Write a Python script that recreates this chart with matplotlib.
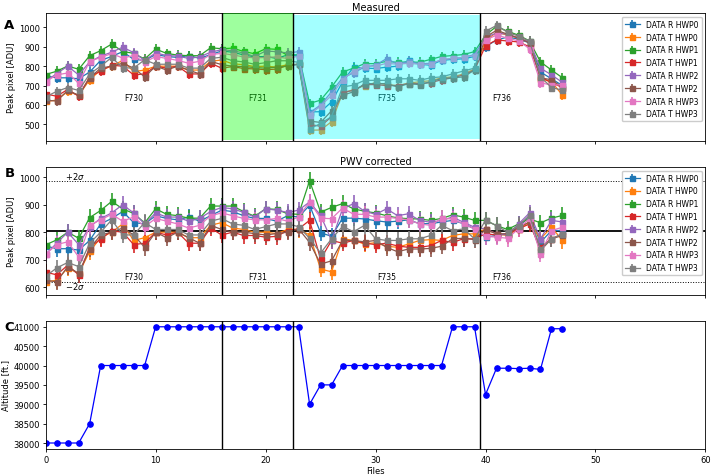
import matplotlib.pyplot as plt

# file index for every measurement
files = list(range(48))

labels = ["DATA R HWP0", "DATA T HWP0", "DATA R HWP1", "DATA T HWP1",
          "DATA R HWP2", "DATA T HWP2", "DATA R HWP3", "DATA T HWP3"]
colors = ["tab:blue", "tab:orange", "tab:green", "tab:red",
          "tab:purple", "tab:brown", "tab:pink", "tab:gray"]

# Panel A - measured peak pixel [ADU]
meas_r_hwp0 = [750, 740, 740, 735, 770, 830, 850, 875, 835, 830, 860, 850, 845, 855, 840, 860,
               878, 872, 858, 848, 850, 840, 858, 855,
               565, 565, 616, 719, 796, 790, 788, 795, 800, 830, 810, 805, 830, 835, 838, 850,
               900, 935, 950, 940, 920, 770, 735, 700]
meas_t_hwp0 = [618, 625, 670, 650, 730, 780, 800, 830, 772, 780, 800, 800, 800, 780, 780, 825,
               832, 812, 808, 798, 800, 795, 808, 810,
               470, 471, 514, 660, 680, 700, 715, 705, 700, 712, 720, 725, 740, 745, 760, 785,
               930, 975, 960, 945, 925, 735, 720, 650]
meas_r_hwp1 = [757, 774, 801, 784, 854, 880, 914, 876, 866, 837, 888, 866, 857, 854, 854, 895,
               890, 893, 876, 864, 890, 887, 856, 860,
               608, 625, 693, 770, 790, 813, 813, 825, 820, 822, 820, 835, 850, 855, 860, 875,
               960, 1005, 980, 960, 930, 822, 780, 740]
meas_t_hwp1 = [657, 645, 680, 645, 745, 775, 805, 800, 755, 760, 800, 790, 800, 760, 760, 815,
               790, 798, 788, 786, 782, 785, 804, 810,
               500, 490, 540, 665, 675, 705, 705, 700, 700, 710, 710, 715, 730, 740, 755, 780,
               905, 935, 930, 925, 900, 745, 715, 690]
meas_r_hwp2 = [722, 762, 800, 755, 822, 852, 872, 898, 870, 830, 868, 855, 852, 840, 848, 872,
               885, 880, 868, 850, 878, 875, 868, 875,
               560, 600, 668, 740, 765, 796, 805, 839, 810, 825, 812, 815, 830, 840, 845, 860,
               950, 970, 965, 945, 925, 790, 755, 716]
meas_t_hwp2 = [625, 620, 675, 650, 740, 790, 800, 815, 790, 745, 800, 780, 800, 780, 760, 825,
               808, 800, 798, 793, 790, 795, 800, 810,
               517, 510, 570, 650, 668, 710, 710, 710, 693, 710, 705, 720, 736, 740, 745, 780,
               950, 985, 965, 945, 920, 740, 730, 690]
meas_r_hwp3 = [720, 755, 765, 712, 825, 845, 865, 842, 855, 820, 850, 840, 830, 815, 825, 860,
               866, 858, 848, 843, 845, 848, 840, 852,
               550, 595, 650, 730, 775, 800, 800, 815, 810, 815, 810, 810, 835, 840, 845, 855,
               935, 960, 945, 930, 890, 715, 702, 705]
meas_t_hwp3 = [642, 670, 690, 675, 760, 800, 845, 792, 790, 833, 810, 810, 810, 790, 790, 840,
               846, 828, 822, 810, 818, 828, 828, 820,
               476, 505, 540, 693, 702, 727, 727, 727, 735, 735, 727, 740, 745, 760, 775, 790,
               980, 1010, 975, 955, 930, 745, 690, 676]

# Panel B - PWV corrected peak pixel [ADU]
corr_r_hwp0 = [750, 740, 740, 735, 770, 830, 850, 875, 835, 830, 860, 850, 845, 855, 840, 860,
               880, 875, 860, 850, 850, 840, 860, 855,
               898, 798, 785, 851, 851, 848, 842, 837, 840, 845,
               831, 831, 837, 843, 831, 812, 782, 788, 794, 818, 860, 763, 806, 806]
corr_t_hwp0 = [620, 625, 670, 650, 730, 780, 800, 830, 770, 780, 800, 800, 800, 780, 780, 825,
               835, 815, 810, 800, 800, 795, 810, 810,
               790, 666, 656, 776, 770, 757, 762, 749, 745, 757,
               770, 773, 770, 788, 794, 794, 812, 794, 788, 812, 837, 776, 818, 770]
corr_r_hwp1 = [754, 772, 800, 778, 853, 879, 912, 885, 868, 834, 885, 865, 860, 851, 851, 895,
               895, 895, 875, 858, 885, 883, 867, 865,
               987, 873, 890, 904, 885, 876, 870, 860, 852, 849,
               848, 843, 850, 863, 855, 843, 843, 824, 810, 830, 849, 834, 851, 861]
corr_t_hwp1 = [655, 645, 680, 645, 745, 775, 805, 800, 755, 760, 800, 790, 800, 760, 760, 815,
               790, 800, 788, 788, 782, 785, 806, 812,
               843, 702, 770, 760, 770, 760, 755, 760, 750, 745,
               745, 751, 770, 763, 776, 776, 794, 790, 794, 812, 830, 745, 776, 794]
corr_r_hwp2 = [720, 760, 800, 755, 820, 850, 870, 900, 870, 830, 870, 855, 855, 840, 850, 875,
               890, 885, 872, 855, 885, 880, 872, 880,
               910, 861, 770, 885, 904, 876, 865, 885, 860, 867,
               843, 836, 843, 855, 836, 818, 812, 794, 790, 830, 870, 776, 843, 837]
corr_t_hwp2 = [625, 620, 675, 650, 740, 790, 800, 815, 790, 745, 800, 780, 800, 780, 760, 825,
               810, 800, 800, 795, 790, 795, 800, 812,
               763, 684, 696, 770, 770, 765, 770, 745, 729, 739,
               739, 741, 749, 776, 778, 773, 810, 794, 794, 818, 837, 733, 776, 788]
corr_r_hwp3 = [720, 755, 765, 710, 825, 845, 865, 840, 855, 820, 850, 840, 830, 815, 825, 860,
               870, 860, 850, 845, 845, 850, 840, 855,
               910, 851, 849, 888, 865, 865, 855, 855, 850, 845,
               830, 825, 850, 848, 830, 812, 785, 782, 778, 812, 850, 721, 806, 818]
corr_t_hwp3 = [640, 670, 690, 675, 760, 800, 845, 790, 790, 835, 810, 810, 810, 790, 790, 840,
               850, 830, 825, 810, 820, 830, 830, 820,
               778, 724, 776, 821, 802, 825, 776, 770, 770, 776,
               776, 788, 825, 806, 812, 776, 843, 824, 800, 824, 861, 739, 776, 794]

meas_err = 25
corr_err = 30

# Panel C - aircraft altitude [ft.]
altitude = [38000, 38000, 38000, 38000, 38500, 40000, 40000, 40000, 40000, 40000,
            41000, 41000, 41000, 41000, 41000, 41000, 41000, 41000, 41000, 41000,
            41000, 41000, 41000, 41000, 39000, 39500, 39500, 40000, 40000, 40000,
            40000, 40000, 40000, 40000, 40000, 40000, 40000, 41000, 41000, 41000,
            39250, 39930, 39930, 39920, 39930, 39900, 40950, 40950]

# flight boundaries and names
flight_edges = [16, 22.5, 39.5]
flight_names = ["F730", "F731", "F735", "F736"]
flight_label_x = [8, 19.25, 31, 41.5]

pwv_mean = 803
pwv_2sigma = 183

meas = [meas_r_hwp0, meas_t_hwp0, meas_r_hwp1, meas_t_hwp1,
        meas_r_hwp2, meas_t_hwp2, meas_r_hwp3, meas_t_hwp3]
corr = [corr_r_hwp0, corr_t_hwp0, corr_r_hwp1, corr_t_hwp1,
        corr_r_hwp2, corr_t_hwp2, corr_r_hwp3, corr_t_hwp3]

# the original figure looks like a downscaled one, so everything is small
plt.rcParams['axes.linewidth'] = 0.6
plt.rcParams['xtick.major.size'] = 2.2
plt.rcParams['ytick.major.size'] = 2.2
plt.rcParams['xtick.major.width'] = 0.6
plt.rcParams['ytick.major.width'] = 0.6
plt.rcParams['xtick.major.pad'] = 2
plt.rcParams['ytick.major.pad'] = 2

fig, (axA, axB, axC) = plt.subplots(3, 1, figsize=(7.14, 4.77), dpi=100, sharex=True)
plt.subplots_adjust(left=0.064, right=0.988, top=0.971, bottom=0.057, hspace=0.2)

# --- A: measured
for vals, lab, col in zip(meas, labels, colors):
    axA.errorbar(files, vals, yerr=meas_err, fmt='-s', color=col, label=lab,
                 markersize=3.6, linewidth=0.9, elinewidth=1.2, capsize=0)
for name, xl in zip(flight_names, flight_label_x):
    axA.text(xl, 640, name, ha='center', va='center', fontsize=5.5)
axA.axvspan(16, 22.5, ymin=0.005, ymax=0.995, color='lime', alpha=0.38, lw=0, zorder=5)
axA.axvspan(22.5, 39.5, ymin=0.015, ymax=0.985, color='cyan', alpha=0.36, lw=0, zorder=5)
for xe in flight_edges:
    axA.axvline(xe, color='black', linewidth=1.0, zorder=6)
axA.set_ylim(414, 1075)
axA.set_yticks([500, 600, 700, 800, 900, 1000])
axA.set_ylabel("Peak pixel [ADU]", fontsize=6, labelpad=2)
axA.set_title("Measured", fontsize=7, pad=2)
axA.legend(loc='upper right', fontsize=5.5, framealpha=1)

# --- B: PWV corrected
for vals, lab, col in zip(corr, labels, colors):
    axB.errorbar(files, vals, yerr=corr_err, fmt='-s', color=col, label=lab,
                 markersize=3.6, linewidth=0.9, elinewidth=1.2, capsize=0)
axB.axhline(pwv_mean, color='black', linewidth=1.3, zorder=1)
axB.axhline(pwv_mean + pwv_2sigma, color='black', linestyle=':', linewidth=0.7)
axB.axhline(pwv_mean - pwv_2sigma, color='black', linestyle=':', linewidth=0.7)
axB.text(2.7, pwv_mean + pwv_2sigma + 20, r"$+2\sigma$", ha='center', va='center', fontsize=6)
axB.text(2.7, pwv_mean - pwv_2sigma - 15, r"$-2\sigma$", ha='center', va='center', fontsize=6)
for name, xl in zip(flight_names, flight_label_x):
    axB.text(xl, 640, name, ha='center', va='center', fontsize=5.5)
for xe in flight_edges:
    axB.axvline(xe, color='black', linewidth=1.0, zorder=6)
axB.set_ylim(572, 1038)
axB.set_yticks([600, 700, 800, 900, 1000])
axB.set_ylabel("Peak pixel [ADU]", fontsize=6, labelpad=2)
axB.set_title("PWV corrected", fontsize=7, pad=2)
axB.legend(loc='upper right', fontsize=5.5, framealpha=1)

# --- C: altitude
axC.plot(files, altitude, '-o', color='blue', markersize=3.8, linewidth=0.9)
for xe in flight_edges:
    axC.axvline(xe, color='black', linewidth=1.0)
axC.set_ylim(37850, 41160)
axC.set_yticks([38000, 38500, 39000, 39500, 40000, 40500, 41000])
axC.set_ylabel("Altitude [ft.]", fontsize=6, labelpad=2)
axC.set_xlabel("Files", fontsize=6, labelpad=2)
axC.set_xlim(0, 60)
axC.set_xticks([0, 10, 20, 30, 40, 50, 60])

for ax in (axA, axB, axC):
    ax.tick_params(labelsize=6)

# panel letters
fig.text(0.006, 0.946, "A", fontsize=9.5, fontweight='bold', va='center')
fig.text(0.006, 0.637, "B", fontsize=9.5, fontweight='bold', va='center')
fig.text(0.006, 0.314, "C", fontsize=9.5, fontweight='bold', va='center')

plt.savefig("out.png", dpi=100)
